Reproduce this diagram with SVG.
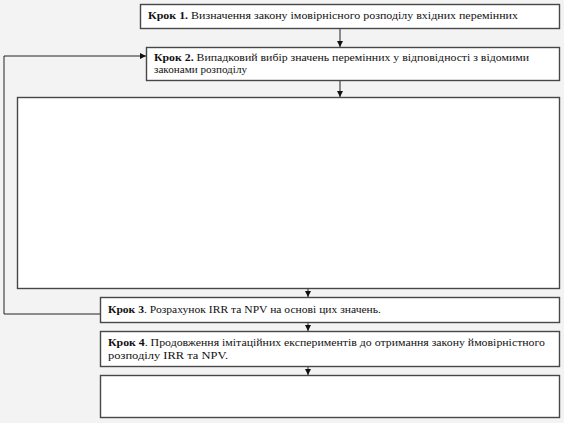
<svg xmlns="http://www.w3.org/2000/svg" width="564" height="423" viewBox="0 0 564 423">
<style>
.box{fill:#ffffff;stroke:#474747;stroke-width:1.4}
.t{font-family:"Liberation Serif","Times New Roman",serif;font-size:10.5px;fill:#111}
.b{font-weight:bold}
.ln{fill:none;stroke:#222;stroke-width:1}
</style>
<defs>
<marker id="ah" viewBox="0 0 10 10" refX="10" refY="5" markerWidth="6" markerHeight="6" markerUnits="userSpaceOnUse" orient="auto">
<path d="M0,0 L10,5 L0,10 z" fill="#111"/>
</marker>
</defs>
<rect x="0" y="0" width="564" height="423" fill="#f3f3f3"/>
<g id="connectors">
<line class="ln" x1="340" y1="29" x2="340" y2="47" marker-end="url(#ah)"/>
<line class="ln" x1="340" y1="81" x2="340" y2="97" marker-end="url(#ah)"/>
<line class="ln" x1="308" y1="289" x2="308" y2="297" marker-end="url(#ah)"/>
<line class="ln" x1="308" y1="322" x2="308" y2="331" marker-end="url(#ah)"/>
<line class="ln" x1="308" y1="366" x2="308" y2="375" marker-end="url(#ah)"/>
<polyline class="ln" points="101,314 4,314 4,56 146,56" marker-end="url(#ah)"/>
</g>
<g id="step1">
<rect class="box" x="140.5" y="4.5" width="419" height="24"/>
<text class="t" x="148" y="19" textLength="370" lengthAdjust="spacingAndGlyphs"><tspan class="b">Крок 1.</tspan> Визначення закону імовірнісного розподілу вхідних перемінних</text>
</g>
<g id="step2">
<rect class="box" x="146.5" y="47.5" width="413" height="33"/>
<text class="t" x="154" y="61" textLength="375" lengthAdjust="spacingAndGlyphs"><tspan class="b">Крок 2.</tspan> Випадковий вибір значень  перемінних у відповідності з відомими</text>
<text class="t" x="154" y="73" textLength="93" lengthAdjust="spacingAndGlyphs">законами розподілу</text>
</g>
<g id="model">
<rect class="box" x="17.5" y="97.5" width="542" height="191"/>
</g>
<g id="step3">
<rect class="box" x="100.5" y="297.5" width="459" height="25"/>
<text class="t" x="108" y="313" textLength="273" lengthAdjust="spacingAndGlyphs"><tspan class="b">Крок 3</tspan>. Розрахунок IRR та  NPV на основі цих значень.</text>
</g>
<g id="step4">
<rect class="box" x="100.5" y="331.5" width="459" height="35"/>
<text class="t" x="108" y="346" textLength="437" lengthAdjust="spacingAndGlyphs"><tspan class="b">Крок 4</tspan>. Продовження імітаційних експериментів до отримання закону ймовірністного</text>
<text class="t" x="108" y="359" textLength="120" lengthAdjust="spacingAndGlyphs">розподілу IRR  та NPV.</text>
</g>
<g id="step5">
<rect class="box" x="100.5" y="375.5" width="459" height="42"/>
</g>
</svg>
